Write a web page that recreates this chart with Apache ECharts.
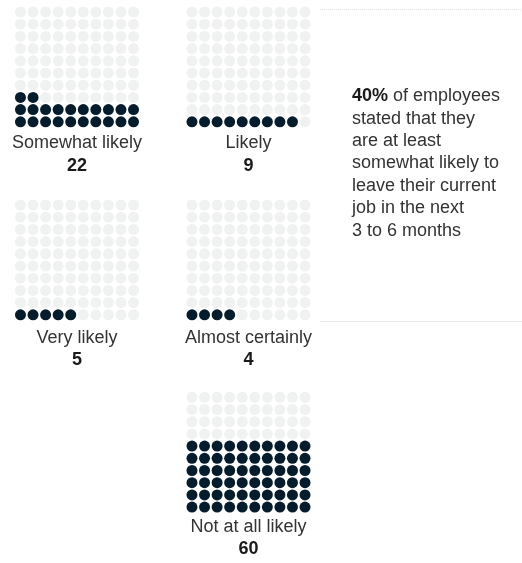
<!DOCTYPE html>
<html><head><meta charset="utf-8">
<script src="https://cdn.jsdelivr.net/npm/echarts@6/dist/echarts.min.js"></script>
<style>html,body{margin:0;padding:0;background:#fff}#c{width:522px;height:563px}</style>
</head><body><div id="c"></div>
<script>
// ---- data ----
const categories = ['Somewhat likely', 'Likely', 'Very likely', 'Almost certainly', 'Not at all likely'];
const values = [22, 9, 5, 4, 60];
const gridCols = 10;
const gridRows = 10;
const noteBold = '40%';
const noteLines = ['of employees', 'stated that they', 'are at least', 'somewhat likely to', 'leave their current', 'job in the next', '3 to 6 months'];

// ---- layout ----
const panelW = 125.6, panelH = 122;
const panels = [
  {left: 14.2, top: 5.9, labelY: 143, numY: 166},
  {left: 185.7, top: 5.9, labelY: 143, numY: 166},
  {left: 14.2, top: 198.9, labelY: 338, numY: 360},
  {left: 185.7, top: 198.9, labelY: 338, numY: 360},
  {left: 185.7, top: 391.2, labelY: 527, numY: 549}
];
const DARK = '#051c2c', LIGHT = '#f0f1f1';
const FONT = '"Liberation Sans", Arial, sans-serif';

const grid = [], xAxis = [], yAxis = [], series = [], graphic = [];
categories.forEach((cat, i) => {
  const p = panels[i];
  grid.push({left: p.left, top: p.top, width: panelW, height: panelH});
  xAxis.push({type: 'value', gridIndex: i, min: -0.5, max: gridCols - 0.5, show: false});
  yAxis.push({type: 'value', gridIndex: i, min: -0.5, max: gridRows - 0.5, show: false});
  const on = [], off = [];
  for (let r = 0; r < gridRows; r++) {
    for (let c = 0; c < gridCols; c++) {
      const idx = r * gridCols + c;
      (idx < values[i] ? on : off).push([c, r]);
    }
  }
  series.push({type: 'scatter', xAxisIndex: i, yAxisIndex: i, data: off, symbolSize: 11,
    itemStyle: {color: LIGHT, opacity: 1}, silent: true, animation: false});
  series.push({type: 'scatter', xAxisIndex: i, yAxisIndex: i, data: on, symbolSize: 11,
    itemStyle: {color: DARK, opacity: 1}, silent: true, animation: false});
  const cx = p.left + panelW / 2;
  graphic.push({type: 'text', x: cx, y: p.labelY, style: {text: cat, fill: '#333',
    font: '18px ' + FONT, textAlign: 'center', textVerticalAlign: 'middle'}});
  graphic.push({type: 'text', x: cx, y: p.numY, style: {text: String(values[i]), fill: '#1a1a1a',
    font: 'bold 18px ' + FONT, textAlign: 'center', textVerticalAlign: 'middle'}});
});

// side note
graphic.push({type: 'line', shape: {x1: 320, y1: 9.5, x2: 522, y2: 9.5},
  style: {stroke: '#e2e2e2', lineWidth: 1, lineDash: [1, 1]}});
graphic.push({type: 'line', shape: {x1: 320, y1: 321.5, x2: 522, y2: 321.5},
  style: {stroke: '#e6e6e6', lineWidth: 1}});
graphic.push({type: 'text', x: 352, y: 85, style: {
  text: '{b|' + noteBold + '} ' + noteLines.join('\n'),
  fill: '#333', font: '18px ' + FONT, lineHeight: 22.4,
  rich: {b: {fontWeight: 'bold', fill: '#1a1a1a', fontSize: 18, fontFamily: FONT, lineHeight: 22.4}}
}});

const chart = echarts.init(document.getElementById('c'), null, {renderer: 'canvas'});
chart.setOption({animation: false, grid, xAxis, yAxis, series, graphic});
</script></body></html>
